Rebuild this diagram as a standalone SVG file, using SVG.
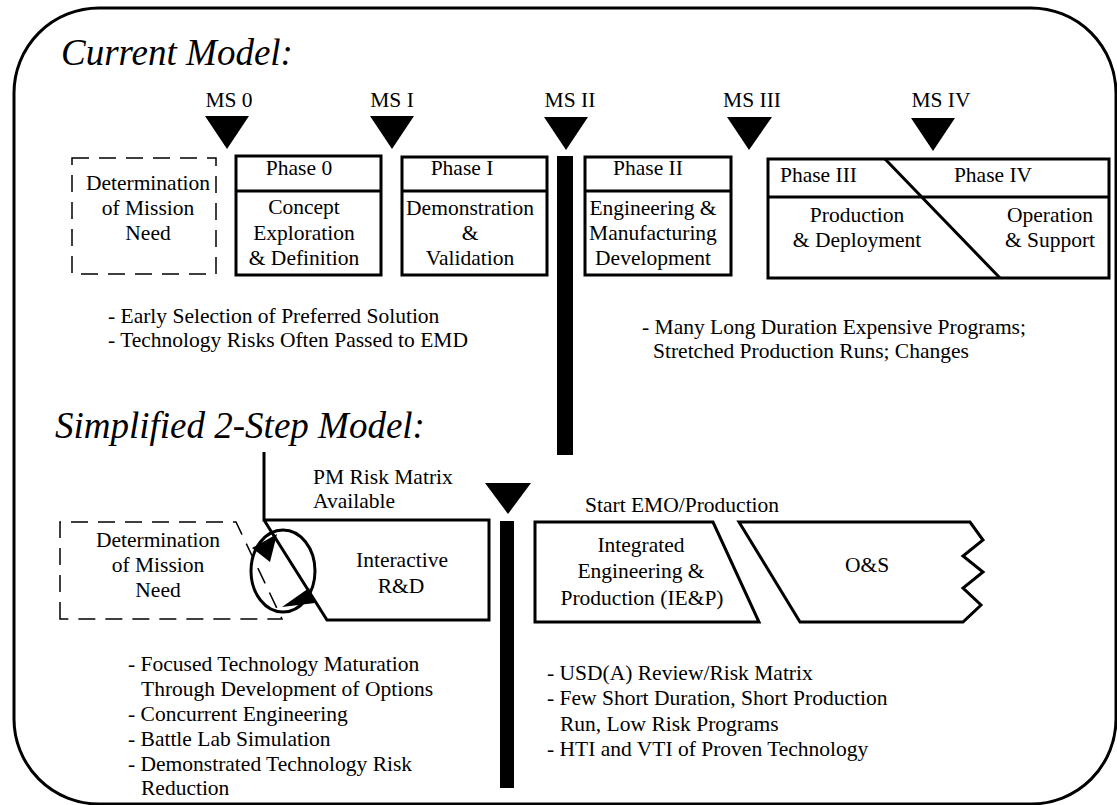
<svg xmlns="http://www.w3.org/2000/svg" width="1117" height="805" viewBox="0 0 1117 805">
<style>
text{font-family:"Liberation Serif","Times New Roman",serif;font-size:21.5px;fill:#000}
.t{font-style:italic;font-size:37px}
.c{text-anchor:middle}
.box{fill:none;stroke:#000;stroke-width:3}
.dash{fill:none;stroke:#000;stroke-width:1.5;stroke-dasharray:17 10}
.tri{fill:#000}
.bar{fill:#000}
</style>
<rect x="14" y="8" width="1102" height="796" rx="85" ry="85" fill="none" stroke="#000" stroke-width="3"/>
<text class="t" x="61" y="65">Current Model:</text>
<text class="t" x="55" y="438">Simplified 2-Step Model:</text>

<g id="milestones">
<text class="c" x="229" y="107">MS 0</text>
<polygon class="tri" points="205,116 249,116 227,149"/>
<text class="c" x="392" y="107">MS I</text>
<polygon class="tri" points="370,116 414,116 392,149"/>
<text class="c" x="570" y="107">MS II</text>
<polygon class="tri" points="544,117 588,117 566,150"/>
<text class="c" x="752" y="107">MS III</text>
<polygon class="tri" points="727,117 772,117 749,150"/>
<text class="c" x="941" y="107">MS IV</text>
<polygon class="tri" points="911,118 955,118 933,151"/>
<rect class="bar" x="557" y="156" width="16" height="299"/>
<polygon class="tri" points="485,483 531,483 508,514"/>
<rect class="bar" x="500" y="521" width="14" height="267"/>
</g>

<g id="mission-need-1">
<rect class="dash" x="72" y="158" width="144" height="116"/>
<text class="c" x="148" y="190">Determination</text>
<text class="c" x="148" y="215">of Mission</text>
<text class="c" x="148" y="240">Need</text>
</g>

<g id="phase0">
<rect class="box" x="236" y="156" width="145" height="119"/>
<line x1="236" y1="191" x2="381" y2="191" stroke="#000" stroke-width="3"/>
<text class="c" x="299" y="175">Phase 0</text>
<text class="c" x="304" y="214">Concept</text>
<text class="c" x="304" y="240">Exploration</text>
<text class="c" x="304" y="265">&amp; Definition</text>
</g>

<g id="phase1">
<rect class="box" x="402" y="157" width="145" height="118"/>
<line x1="402" y1="191" x2="547" y2="191" stroke="#000" stroke-width="3"/>
<text class="c" x="462" y="175">Phase I</text>
<text class="c" x="470" y="215">Demonstration</text>
<text class="c" x="470" y="240">&amp;</text>
<text class="c" x="470" y="265">Validation</text>
</g>

<g id="phase2">
<rect class="box" x="585" y="157" width="146" height="118"/>
<line x1="585" y1="191" x2="731" y2="191" stroke="#000" stroke-width="3"/>
<text class="c" x="648" y="175">Phase II</text>
<text class="c" x="653" y="215">Engineering &amp;</text>
<text class="c" x="653" y="240">Manufacturing</text>
<text class="c" x="653" y="265">Development</text>
</g>

<g id="phase3-4">
<rect class="box" x="768" y="159" width="341" height="119"/>
<line x1="768" y1="197" x2="1109" y2="197" stroke="#000" stroke-width="3"/>
<line x1="885" y1="159" x2="1000" y2="278" stroke="#000" stroke-width="3"/>
<text x="780" y="182">Phase III</text>
<text class="c" x="993" y="182">Phase IV</text>
<text class="c" x="857" y="222">Production</text>
<text class="c" x="857" y="247">&amp; Deployment</text>
<text class="c" x="1050" y="222">Operation</text>
<text class="c" x="1050" y="247">&amp; Support</text>
</g>

<g id="notes-current">
<text x="108" y="323">- Early Selection of Preferred Solution</text>
<text x="108" y="347">- Technology Risks Often Passed to EMD</text>
<text x="642" y="334">- Many Long Duration Expensive Programs;</text>
<text x="653" y="358">Stretched Production Runs; Changes</text>
</g>

<g id="mission-need-2">
<path class="dash" d="M60,619 L60,522 L236,522 L282,619 Z"/>
<text class="c" x="158" y="547">Determination</text>
<text class="c" x="158" y="572">of Mission</text>
<text class="c" x="158" y="597">Need</text>
</g>

<g id="interactive-rd">
<path class="box" d="M264,452 L264,520 L489,520 L489,620 L327,620 L264,520"/>
<text x="313" y="484">PM Risk Matrix</text>
<text x="313" y="508">Available</text>
<text class="c" x="402" y="567">Interactive</text>
<text class="c" x="401" y="593">R&amp;D</text>
</g>

<g id="iep">
<polygon class="box" points="535,522 713,522 759,622 535,622"/>
<text x="585" y="512">Start EMO/Production</text>
<text class="c" x="641" y="552">Integrated</text>
<text class="c" x="641" y="578">Engineering &amp;</text>
<text class="c" x="642" y="605">Production (IE&amp;P)</text>
</g>

<g id="os">
<polygon class="box" points="739,522 970,522 983,540 963,556 983,572 963,588 981,605 963,622 800,622"/>
<text class="c" x="867" y="572">O&amp;S</text>
</g>

<g id="connectors">
<ellipse cx="283" cy="571" rx="32" ry="41" fill="none" stroke="#000" stroke-width="3"/>
<polygon class="tri" points="252,548 277,534 270,562"/>
<polygon class="tri" points="282,607 309,588 315,603"/>
</g>

<g id="notes-simplified">
<text x="128" y="671">- Focused Technology Maturation</text>
<text x="141" y="696">Through Development of Options</text>
<text x="128" y="721">- Concurrent Engineering</text>
<text x="128" y="746">- Battle Lab Simulation</text>
<text x="128" y="771">- Demonstrated Technology Risk</text>
<text x="141" y="795">Reduction</text>
<text x="547" y="680">- USD(A) Review/Risk Matrix</text>
<text x="547" y="705">- Few Short Duration, Short Production</text>
<text x="560" y="731">Run, Low Risk Programs</text>
<text x="547" y="756">- HTI and VTI of Proven Technology</text>
</g>
</svg>
